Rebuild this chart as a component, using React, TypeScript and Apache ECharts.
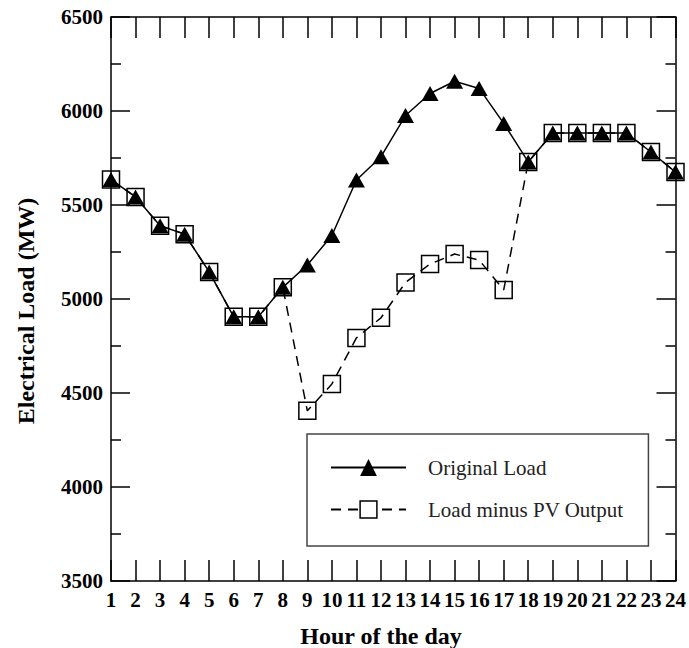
import React, { useEffect, useRef } from "react";
import * as echarts from "echarts";

const hours = [1, 2, 3, 4, 5, 6, 7, 8, 9, 10, 11, 12, 13, 14, 15, 16, 17, 18, 19, 20, 21, 22, 23, 24];
const originalLoad = [5635, 5543, 5390, 5345, 5144, 4905, 4905, 5062, 5181, 5338, 5633, 5757, 5976, 6093, 6158, 6120, 5934, 5729, 5883, 5883, 5883, 5883, 5782, 5675];
const loadMinusPV = [5635, 5543, 5390, 5345, 5144, 4905, 4905, 5062, 4405, 4548, 4793, 4900, 5088, 5186, 5239, 5207, 5048, 5729, 5883, 5883, 5883, 5883, 5782, 5675];
const seriesNames = ["Original Load", "Load minus PV Output"];
const xTitle = "Hour of the day";
const yTitle = "Electrical Load (MW)";

const FONT = "'Liberation Serif', 'Times New Roman', serif";

export default function App() {
  const ref = useRef<HTMLDivElement>(null);
  useEffect(() => {
    if (!ref.current) return;
    const chart = echarts.init(ref.current, undefined, { renderer: "svg" });
    const pair = (arr: number[]) => hours.map((h, i) => [h, arr[i]]);
    const axisLine = { show: true, lineStyle: { color: "#000", width: 1.5 } };
    chart.setOption({
      animation: false,
      backgroundColor: "#fff",
      grid: { left: 111, right: 12, top: 17, bottom: 67, containLabel: false },
      xAxis: [
        {
          type: "value",
          min: 1,
          max: 24,
          interval: 1,
          position: "bottom",
          axisLine,
          axisTick: { inside: true, length: 21, lineStyle: { color: "#000", width: 1.5 } },
          axisLabel: { fontFamily: FONT, fontSize: 21, fontWeight: "bold", color: "#000", margin: 8, formatter: (v: number) => String(v) },
          splitLine: { show: false },
        },
        {
          type: "value",
          min: 1,
          max: 24,
          interval: 1,
          position: "top",
          axisLine,
          axisTick: { inside: true, length: 21, lineStyle: { color: "#000", width: 1.5 } },
          axisLabel: { show: false },
          splitLine: { show: false },
        },
      ],
      yAxis: [
        {
          type: "value",
          min: 3500,
          max: 6500,
          interval: 500,
          position: "left",
          axisLine,
          axisTick: { inside: true, length: 19, lineStyle: { color: "#000", width: 1.5 } },
          minorTick: { show: true, splitNumber: 2, length: 10, lineStyle: { color: "#000", width: 1.5 } },
          axisLabel: { fontFamily: FONT, fontSize: 21, fontWeight: "bold", color: "#000", margin: 8, formatter: (v: number) => String(v) },
          splitLine: { show: false },
        },
        {
          type: "value",
          min: 3500,
          max: 6500,
          interval: 500,
          position: "right",
          axisLine,
          axisTick: { inside: true, length: 19, lineStyle: { color: "#000", width: 1.5 } },
          minorTick: { show: true, splitNumber: 2, length: 10, lineStyle: { color: "#000", width: 1.5 } },
          axisLabel: { show: false },
          splitLine: { show: false },
        },
      ],
      legend: {
        orient: "vertical",
        left: 307,
        top: 434,
        padding: [23, 25, 26, 23],
        itemWidth: 75,
        itemHeight: 21,
        itemGap: 21,
        borderColor: "#444",
        borderWidth: 1.5,
        textStyle: { fontFamily: FONT, fontSize: 21, color: "#222", padding: [0, 0, 0, 17] },
        data: [
          { name: seriesNames[0] },
          { name: seriesNames[1], itemStyle: { color: "#fff", borderColor: "#000", borderWidth: 1.5 } },
        ],
      },
      graphic: [
        {
          type: "text",
          x: 381,
          y: 636,
          style: { text: xTitle, font: `bold 24px ${FONT}`, fill: "#000", align: "center", verticalAlign: "middle" },
        },
        {
          type: "text",
          x: 26,
          y: 311,
          rotation: Math.PI / 2,
          style: { text: yTitle, font: `bold 24px ${FONT}`, fill: "#000", align: "center", verticalAlign: "middle" },
        },
      ],
      series: [
        {
          name: seriesNames[1],
          type: "line",
          data: pair(loadMinusPV),
          symbol: "rect",
          symbolSize: 17,
          itemStyle: { color: "rgba(255,255,255,0)", borderColor: "#000", borderWidth: 1.5 },
          lineStyle: { color: "#000", width: 1.5, type: [10, 7] },
          z: 2,
        },
        {
          name: seriesNames[0],
          type: "line",
          data: pair(originalLoad),
          symbol: "triangle",
          symbolSize: [17, 15],
          itemStyle: { color: "#000" },
          lineStyle: { color: "#000", width: 1.5 },
          z: 3,
        },
      ],
    });
    return () => chart.dispose();
  }, []);
  return <div ref={ref} style={{ width: 689, height: 648, position: "absolute", left: 0, top: 0 }} />;
}
